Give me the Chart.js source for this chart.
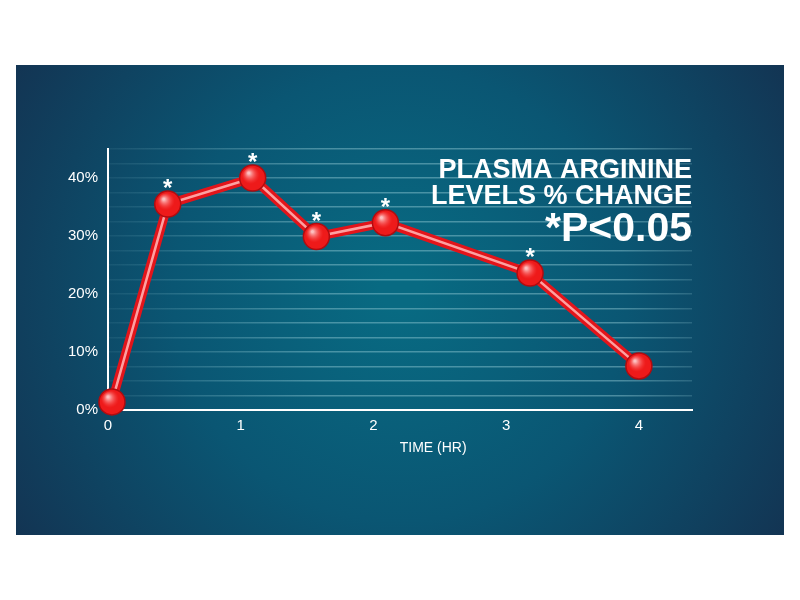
<!DOCTYPE html>
<html>
<head>
<meta charset="utf-8">
<script src="https://cdn.jsdelivr.net/npm/chart.js@4"></script>
<style>
  html, body { margin: 0; padding: 0; background: #ffffff; }
  #wrap { position: relative; width: 800px; height: 600px; }
</style>
</head>
<body>
<div id="wrap"><canvas id="argChart" width="800" height="600"></canvas></div>
<script>
// data
const hours = [0.03, 0.45, 1.09, 1.57, 2.09, 3.18, 4.0];
const pctChange = [1.4, 35.5, 40.0, 29.9, 32.3, 23.6, 7.6];
const significant = [false, true, true, true, true, true, false];
const xTicks = [0, 1, 2, 3, 4];
const yLabels = [0, 10, 20, 30, 40];
const titleLines = ['PLASMA ARGININE', 'LEVELS % CHANGE'];
const pNote = '*P<0.05';
const xTitle = 'TIME (HR)';

const FONT = "'Liberation Sans', 'DejaVu Sans', sans-serif";
const points = hours.map((h, i) => ({ x: h, y: pctChange[i] }));

// background panel + text overlays
const panelPlugin = {
  id: 'panel',
  beforeDraw(chart) {
    const ctx = chart.ctx;
    ctx.save();
    const g = ctx.createRadialGradient(400, 290, 20, 400, 300, 480);
    g.addColorStop(0, '#086a82');
    g.addColorStop(0.45, '#0a5673');
    g.addColorStop(1, '#14304f');
    ctx.fillStyle = g;
    ctx.fillRect(16, 65, 768, 470);
    ctx.restore();
  },
  afterDatasetsDraw(chart) {
    const ctx = chart.ctx;
    const meta = chart.getDatasetMeta(2);
    ctx.save();
    // glossy highlight on the spheres
    meta.data.forEach((pt) => {
      const hl = ctx.createRadialGradient(pt.x - 4, pt.y - 5, 1, pt.x - 2, pt.y - 3, 9);
      hl.addColorStop(0, 'rgba(255,220,220,0.85)');
      hl.addColorStop(1, 'rgba(255,80,80,0)');
      ctx.fillStyle = hl;
      ctx.beginPath();
      ctx.arc(pt.x, pt.y, 11, 0, Math.PI * 2);
      ctx.fill();
    });
    // significance stars
    ctx.fillStyle = '#ffffff';
    ctx.font = 'bold 24px ' + FONT;
    ctx.textAlign = 'center';
    ctx.textBaseline = 'alphabetic';
    meta.data.forEach((pt, i) => {
      if (significant[i]) ctx.fillText('*', pt.x, pt.y - 8);
    });
    ctx.restore();
  },
  afterDraw(chart) {
    const ctx = chart.ctx;
    ctx.save();
    ctx.fillStyle = '#ffffff';
    ctx.textAlign = 'right';
    ctx.textBaseline = 'alphabetic';
    ctx.font = 'bold 27px ' + FONT;
    ctx.fillText(titleLines[0], 692, 178);
    ctx.fillText(titleLines[1], 692, 204);
    ctx.font = 'bold 41px ' + FONT;
    ctx.fillText(pNote, 692, 241);
    ctx.font = '14px ' + FONT;
    ctx.textAlign = 'center';
    ctx.fillText(xTitle, chart.scales.x.getPixelForValue(2.45), 452);
    ctx.restore();
  }
};

let gridGrad = null;
function gridColor(c) {
  if (c.tick && c.tick.value === 0) return 'rgba(0,0,0,0)';
  const area = c.chart.chartArea;
  if (!area) return 'rgba(150,205,215,0.4)';
  if (!gridGrad) {
    gridGrad = c.chart.ctx.createLinearGradient(area.left, 0, area.right + 20, 0);
    gridGrad.addColorStop(0, 'rgba(150,205,215,0.08)');
    gridGrad.addColorStop(0.35, 'rgba(150,205,215,0.45)');
    gridGrad.addColorStop(0.85, 'rgba(150,205,215,0.45)');
    gridGrad.addColorStop(1, 'rgba(150,205,215,0.15)');
  }
  return gridGrad;
}

new Chart(document.getElementById('argChart'), {
  type: 'line',
  data: {
    datasets: [
      {
        // thick red tube
        data: points,
        borderColor: '#e3141a',
        borderWidth: 9,
        pointRadius: 0,
        order: 3
      },
      {
        // light highlight inside the tube
        data: points,
        borderColor: 'rgba(255,175,175,0.9)',
        borderWidth: 2.5,
        pointRadius: 0,
        order: 2
      },
      {
        // red spheres
        data: points,
        showLine: false,
        pointRadius: 13,
        pointBackgroundColor: '#ee1a1a',
        pointBorderColor: '#b00c10',
        pointBorderWidth: 1.5,
        order: 1
      }
    ]
  },
  options: {
    responsive: false,
    animation: false,
    clip: false,
    layout: { padding: { left: 16, right: 108, top: 149, bottom: 130 } },
    plugins: {
      legend: { display: false },
      tooltip: { enabled: false },
      title: { display: false }
    },
    scales: {
      x: {
        type: 'linear',
        min: 0,
        max: 4.4,
        afterBuildTicks(scale) {
          scale.ticks = xTicks.map(v => ({ value: v }));
        },
        afterFit(scale) { scale.height = 60; },
        grid: { display: false, drawTicks: false },
        border: { display: true, color: '#ffffff', width: 2 },
        ticks: {
          color: '#ffffff',
          font: { family: FONT, size: 15 },
          padding: 7
        }
      },
      y: {
        min: 0,
        max: 45,
        afterFit(scale) { scale.width = 92; },
        ticks: {
          stepSize: 2.5,
          maxTicksLimit: 40,
          autoSkip: false,
          color: '#ffffff',
          font: { family: FONT, size: 15 },
          padding: 10,
          callback(v) {
            return yLabels.includes(v) ? v + '%' : '';
          }
        },
        grid: {
          drawTicks: false,
          lineWidth: 1.5,
          color: gridColor
        },
        border: { display: true, color: '#ffffff', width: 2 }
      }
    }
  },
  plugins: [panelPlugin]
});
</script>
</body>
</html>
